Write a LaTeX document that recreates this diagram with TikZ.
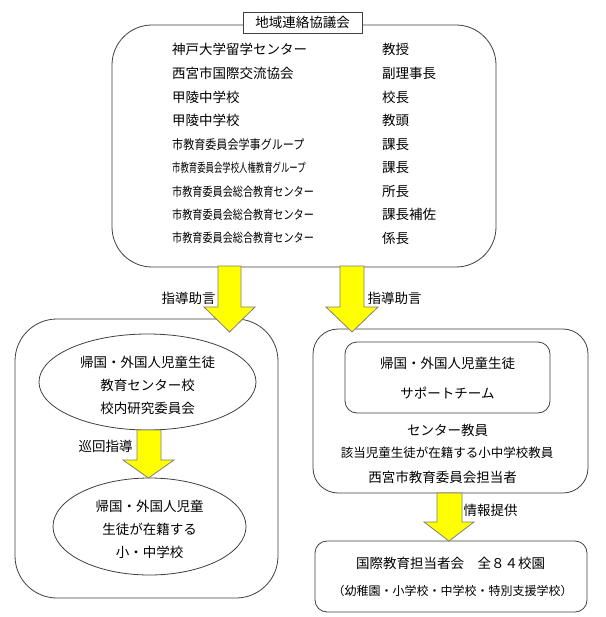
\documentclass[tikz,border=0pt]{standalone}
\usepackage{fontspec}
\setmainfont{Noto Sans CJK JP}
\usepackage{graphicx}
\usetikzlibrary{shapes.geometric}
\definecolor{edge}{HTML}{404040}
\definecolor{arrowfill}{HTML}{FFFF00}
\definecolor{arrowedge}{HTML}{7F7F7F}
\begin{document}
\begin{tikzpicture}[x=1pt,y=-1pt,
  font=\fontsize{13.5}{16}\selectfont,
  box/.style={draw=edge, line width=0.8pt},
  yarrow/.style={draw=arrowedge, fill=arrowfill, line width=0.8pt, line join=miter},
  txt/.style={inner sep=0pt, anchor=west},
  ctxt/.style={inner sep=0pt},
  multi/.style={inner sep=0pt, align=center, font=\fontsize{13.5}{23}\selectfont}]
\useasboundingbox[fill=white] (0,0) rectangle (605,617);

% ---- top council box
\node[box, rounded corners=40pt, minimum width=384pt, minimum height=242pt] (council) at (304,146) {};
\node[box, fill=white, minimum width=119pt, minimum height=21pt, inner sep=0pt] (title) at (302.5,22.5) {地域連絡協議会};

\node[txt] (l1) at (172,49.5) {神戸大学留学センター};
\node[txt] (l2) at (172,73.5) {西宮市国際交流協会};
\node[txt] (l3) at (172,97) {甲陵中学校};
\node[txt] (l4) at (172,120) {甲陵中学校};
\node[txt] (l5) at (172,144.5) {\scalebox{0.82}[0.95]{市教育委員会学事グループ}};
\node[txt] (l6) at (172,168) {\scalebox{0.62}[0.92]{市教育委員会学校人権教育グループ}};
\node[txt] (l7) at (172,191.5) {\scalebox{0.75}[0.92]{市教育委員会総合教育センター}};
\node[txt] (l8) at (172,214.5) {\scalebox{0.75}[0.92]{市教育委員会総合教育センター}};
\node[txt] (l9) at (172,238) {\scalebox{0.75}[0.92]{市教育委員会総合教育センター}};

\node[txt] (r1) at (382,49.5) {教授};
\node[txt] (r2) at (382,73.5) {副理事長};
\node[txt] (r3) at (382,97) {校長};
\node[txt] (r4) at (382,120) {教頭};
\node[txt] (r5) at (382,144.5) {課長};
\node[txt] (r6) at (382,168) {課長};
\node[txt] (r7) at (382,191.5) {所長};
\node[txt] (r8) at (382,214.5) {課長補佐};
\node[txt] (r9) at (382,238) {係長};

% ---- left group
\node[box, rounded corners=42pt, minimum width=263pt, minimum height=279pt] (leftbox) at (146.5,458.5) {};
\node[box, ellipse, inner sep=0pt, minimum width=217pt, minimum height=96pt] (centerschool) at (147.5,382) {};
\node[multi] (cstext) at (147.5,385) {帰国・外国人児童生徒\\教育センター校\\校内研究委員会};
\node[box, ellipse, inner sep=0pt, minimum width=193pt, minimum height=97pt] (schools) at (149.5,526.5) {};
\node[multi] (sctext) at (149.5,529.5) {帰国・外国人児童\\生徒が在籍する\\小・中学校};

% ---- right group
\node[box, rounded corners=25pt, minimum width=275pt, minimum height=164pt] (rightbox) at (450.5,411) {};
\node[box, rounded corners=12pt, minimum width=205pt, minimum height=71pt] (team) at (447.5,377.5) {};
\node[ctxt] (team1) at (447.5,363) {帰国・外国人児童生徒};
\node[ctxt] (team2) at (447.5,393) {サポートチーム};
\node[ctxt] (m1) at (447.5,430) {センター教員};
\node[ctxt, font=\fontsize{12.5}{15}\selectfont] (m2) at (447,453) {該当児童生徒が在籍する小中学校教員};
\node[ctxt] (m3) at (442.5,477) {西宮市教育委員会担当者};

% ---- bottom box
\node[box, rounded corners=12pt, minimum width=272pt, minimum height=71pt] (assembly) at (451,576.5) {};
\node[ctxt] (a1) at (450.5,563) {国際教育担当者会　全８４校園};
\node[ctxt, font=\fontsize{12}{14}\selectfont] (a2) at (452.5,590.5) {（幼稚園・小学校・中学校・特別支援学校）};

% ---- block arrows
\draw[yarrow] (218,266) -- (241,266) -- (241,307) -- (255,307) -- (229.5,332) -- (204,307) -- (218,307) -- cycle;
\draw[yarrow] (340,266) -- (364,266) -- (364,307) -- (378,307) -- (352,332) -- (326,307) -- (340,307) -- cycle;
\draw[yarrow] (137,430) -- (161,430) -- (161,460) -- (174,460) -- (148.5,478) -- (123,460) -- (137,460) -- cycle;
\draw[yarrow] (437,493) -- (462,493) -- (462,522) -- (474,522) -- (449,541) -- (424,522) -- (437,522) -- cycle;

% ---- arrow labels
\node[ctxt] (lab1) at (188.5,298) {指導助言};
\node[ctxt] (lab2) at (394.5,298) {指導助言};
\node[ctxt] (lab3) at (105.5,446.5) {巡回指導};
\node[ctxt] (lab4) at (490.5,510) {情報提供};
\end{tikzpicture}
\end{document}
